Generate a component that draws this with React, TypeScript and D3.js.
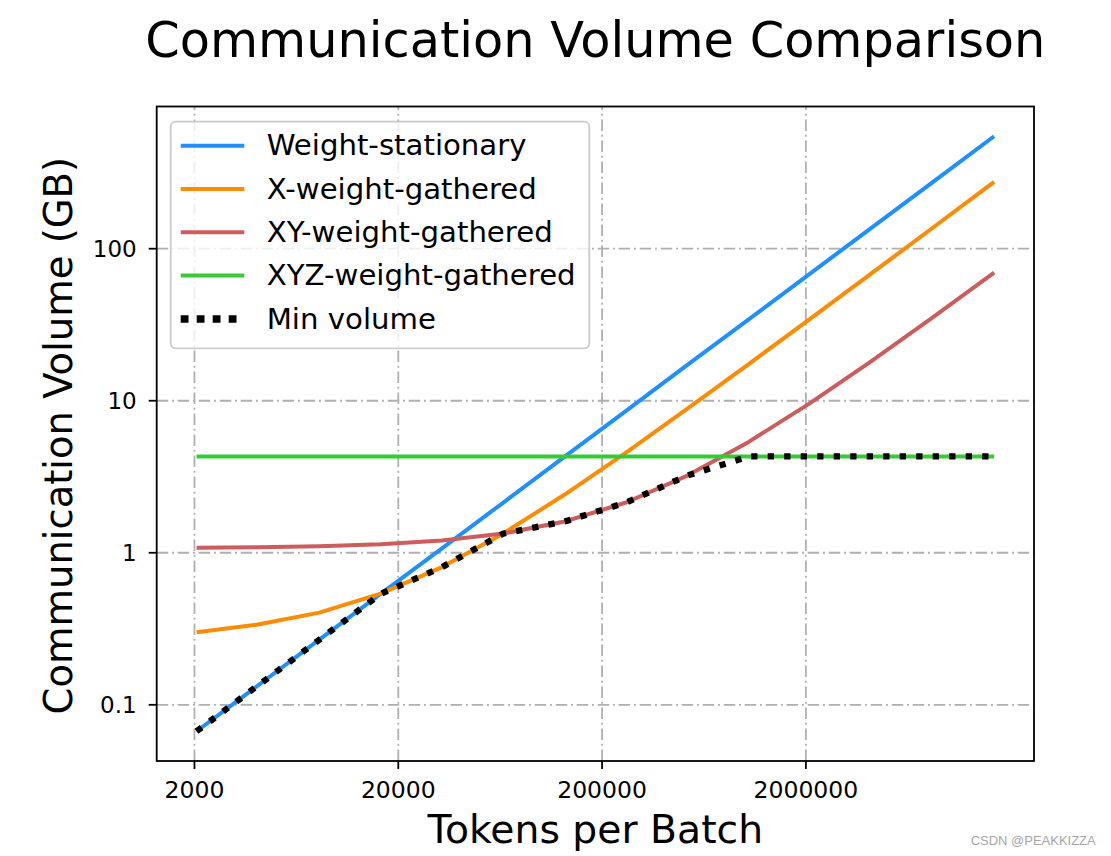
import React from "react";
import * as d3 from "d3";

// ---- data ----
const tokens = [2048, 4096, 8192, 16384, 32768, 65536, 131072, 262144, 524288, 1048576, 2097152, 4194304, 8388608, 16777216];
const weightStationary = [0.067, 0.134, 0.268, 0.536, 1.07, 2.14, 4.29, 8.58, 17.2, 34.3, 68.6, 137, 274, 549];
const xWeightGathered = [0.30, 0.337, 0.404, 0.538, 0.805, 1.34, 2.415, 4.56, 8.87, 17.4, 34.6, 68.8, 137.3, 274.8];
const xyWeightGathered = [1.078, 1.087, 1.104, 1.137, 1.204, 1.338, 1.606, 2.14, 3.22, 5.36, 9.65, 18.2, 35.3, 69.7];
const xyzWeightGathered = [4.3, 4.3, 4.3, 4.3, 4.3, 4.3, 4.3, 4.3, 4.3, 4.3, 4.3, 4.3, 4.3, 4.3];
const minVolume = [0.067, 0.134, 0.268, 0.536, 0.805, 1.338, 1.606, 2.14, 3.22, 4.3, 4.3, 4.3, 4.3, 4.3];

const xTickValues = [2000, 20000, 200000, 2000000];
const xTickLabels = ["2000", "20000", "200000", "2000000"];
const yTickValues = [0.1, 1, 10, 100];
const yTickLabels = ["0.1", "1", "10", "100"];

const seriesNames = ["Weight-stationary", "X-weight-gathered", "XY-weight-gathered", "XYZ-weight-gathered", "Min volume"];
const seriesValues = [weightStationary, xWeightGathered, xyWeightGathered, xyzWeightGathered, minVolume];
const seriesColors = ["#1E90FF", "#FF8C00", "#CD5C5C", "#32CD32", "#000000"];

const titleText = "Communication Volume Comparison";
const xLabelText = "Tokens per Batch";
const yLabelText = "Communication Volume (GB)";
const watermark = "CSDN @PEAKKIZZA";

// ---- layout ----
const W = 1111, H = 856;
const L = 156.7, R = 1034, T = 106.5, B = 761;
const FONT = "'DejaVu Sans', sans-serif";

function logDomain(values: number[]): [number, number] {
  const lo = Math.log10(d3.min(values)!);
  const hi = Math.log10(d3.max(values)!);
  const m = 0.05 * (hi - lo);
  return [Math.pow(10, lo - m), Math.pow(10, hi + m)];
}

export default function App() {
  const x = d3.scaleLog().domain(logDomain(tokens)).range([L, R]);
  const allY = seriesValues.flat();
  const y = d3.scaleLog().domain(logDomain(allY)).range([B, T]);

  const line = d3
    .line<number>()
    .x((_, i) => x(tokens[i]))
    .y((d) => y(d));

  const gridDash = "11.5 3.8 1.9 3.8";
  const cx = (L + R) / 2;
  const cy = (T + B) / 2;

  const legendX = 170.7, legendY = 121.7, legendW = 418.6, legendH = 226.6;
  const rowY0 = 145.7, rowStep = 43.3;

  return (
    <svg width={W} height={H} viewBox={`0 0 ${W} ${H}`} style={{ position: "absolute", left: 0, top: 0, background: "#fff" }} fontFamily={FONT}>
      <rect x={0} y={0} width={W} height={H} fill="#fff" />
      {/* title */}
      <text x={cx} y={57.3} textAnchor="middle" fontSize={49.4} fill="#000">{titleText}</text>

      {/* grid */}
      <g stroke="#b0b0b0" strokeWidth={1.8} strokeDasharray={gridDash} fill="none">
        {xTickValues.map((v) => (
          <line key={"gx" + v} x1={x(v)} x2={x(v)} y1={B} y2={T} />
        ))}
        {yTickValues.map((v) => (
          <line key={"gy" + v} x1={L} x2={R} y1={y(v)} y2={y(v)} />
        ))}
      </g>

      {/* series */}
      <g fill="none">
        {seriesValues.map((vals, k) => (
          <path
            key={seriesNames[k]}
            d={line(vals) || ""}
            stroke={seriesColors[k]}
            strokeWidth={k === 4 ? 6.3 : 4}
            strokeDasharray={k === 4 ? "6.3 10.2" : undefined}
            strokeLinejoin="round"
          />
        ))}
      </g>

      {/* frame */}
      <rect x={L} y={T} width={R - L} height={B - T} fill="none" stroke="#000" strokeWidth={1.8} />

      {/* x ticks */}
      {xTickValues.map((v, i) => (
        <g key={"xt" + v}>
          <line x1={x(v)} x2={x(v)} y1={B} y2={B + 8} stroke="#000" strokeWidth={1.8} />
          <text x={x(v)} y={797.5} textAnchor="middle" fontSize={23.5} fill="#000">{xTickLabels[i]}</text>
        </g>
      ))}
      {/* y ticks */}
      {yTickValues.map((v, i) => (
        <g key={"yt" + v}>
          <line x1={L - 8} x2={L} y1={y(v)} y2={y(v)} stroke="#000" strokeWidth={1.8} />
          <text x={136.7} y={y(v) + 8.4} textAnchor="end" fontSize={23} fill="#000">{yTickLabels[i]}</text>
        </g>
      ))}

      {/* axis labels */}
      <text x={cx} y={843} textAnchor="middle" fontSize={39.3} fill="#000">{xLabelText}</text>
      <text transform={`translate(72,${cy + 2}) rotate(-90)`} textAnchor="middle" fontSize={38.5} fill="#000">{yLabelText}</text>

      {/* legend */}
      <rect x={legendX} y={legendY} width={legendW} height={legendH} rx={5} ry={5} fill="#fff" fillOpacity={0.8} stroke="#cccccc" strokeWidth={1.8} />
      {seriesNames.map((name, k) => {
        const ry = rowY0 + k * rowStep;
        return (
          <g key={"lg" + name}>
            <line
              x1={180.7}
              x2={244.3}
              y1={ry}
              y2={ry}
              stroke={seriesColors[k]}
              strokeWidth={k === 4 ? 7.5 : 4}
              strokeDasharray={k === 4 ? "7.8 8.2" : undefined}
            />
            <text x={266.7} y={ry + 9.6} fontSize={29.2} fill="#000">{name}</text>
          </g>
        );
      })}

      {/* watermark */}
      <text x={970.7} y={845} fontSize={12} fontFamily="'Liberation Sans', Arial, sans-serif" fill="#a6a6a6" textLength={125} lengthAdjust="spacingAndGlyphs">{watermark}</text>
    </svg>
  );
}
